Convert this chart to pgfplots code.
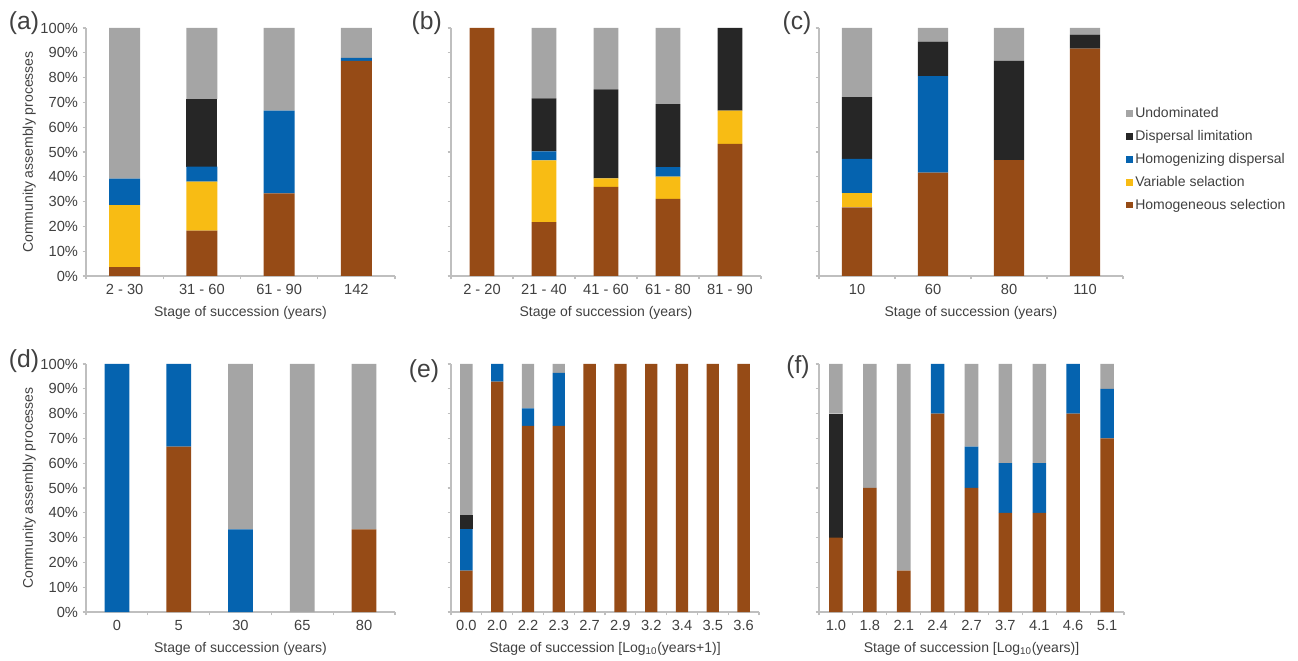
\documentclass[border=0pt]{standalone}
\usepackage{pgfplots}
\pgfplotsset{compat=1.18}
\usepackage{pgfplotstable}
\usepackage{fontspec}
\setmainfont{Liberation Sans}
\definecolor{cHS}{HTML}{964B16}
\definecolor{cVS}{HTML}{F8BC14}
\definecolor{cHD}{HTML}{0563AF}
\definecolor{cDL}{HTML}{262626}
\definecolor{cU}{HTML}{A5A5A5}
\definecolor{axisgrey}{HTML}{BFBFBF}
\definecolor{textgrey}{HTML}{404040}

\pgfplotstableread{
x HS VS HD DL U
0 3.6 25.0 10.7 0 60.7
1 18.3 19.8 6.0 27.2 28.7
2 33.3 0 33.4 0 33.3
3 86.7 0 1.3 0 12.0
}\tabA
\pgfplotstableread{
x HS VS HD DL U
0 100 0 0 0 0
1 21.7 24.9 3.6 21.4 28.4
2 35.9 3.5 0 35.8 24.8
3 31.1 9.0 3.8 25.4 30.7
4 53.3 13.4 0 33.3 0
}\tabB
\pgfplotstableread{
x HS VS HD DL U
0 27.7 5.7 13.8 24.9 27.9
1 41.7 0 38.9 13.9 5.5
2 46.7 0 0 40.0 13.3
3 91.7 0 0 5.6 2.7
}\tabC
\pgfplotstableread{
x HS VS HD DL U
0 0 0 100 0 0
1 66.7 0 33.3 0 0
2 0 0 33.3 0 66.7
3 0 0 0 0 100
4 33.3 0 0 0 66.7
}\tabD
\pgfplotstableread{
x HS VS HD DL U
0 16.7 0 16.7 5.6 61.0
1 92.9 0 7.1 0 0
2 75.0 0 7.1 0 17.9
3 75.0 0 21.4 0 3.6
4 100 0 0 0 0
5 100 0 0 0 0
6 100 0 0 0 0
7 100 0 0 0 0
8 100 0 0 0 0
9 100 0 0 0 0
}\tabE
\pgfplotstableread{
x HS VS HD DL U
0 30 0 0 50 20
1 50 0 0 0 50
2 16.7 0 0 0 83.3
3 80 0 20 0 0
4 50 0 16.7 0 33.3
5 40 0 20 0 40
6 40 0 20 0 40
7 80 0 20 0 0
8 70 0 20 0 10
}\tabF

\newcommand{\stackbars}[1]{%
\addplot[draw=none,fill=cHS] table[x=x,y=HS]{#1};
\addplot[draw=none,fill=cVS] table[x=x,y=VS]{#1};
\addplot[draw=none,fill=cHD] table[x=x,y=HD]{#1};
\addplot[draw=none,fill=cDL] table[x=x,y=DL]{#1};
\addplot[draw=none,fill=cU] table[x=x,y=U]{#1};
}

\pgfplotsset{
  panel/.style={
    ybar stacked, bar width=0.4, scale only axis, height=186pt,
    ymin=0, ymax=100, enlargelimits=false,
    ytick={0,10,...,100},
    axis x line*=bottom, axis y line*=left,
    axis line style={color=axisgrey, line width=0.8pt},
    tick style={color=axisgrey, line width=0.8pt},
    tick align=outside, major tick length=2.5pt,
    tick label style={text=textgrey, font=\fontsize{11}{13}\selectfont},
    label style={text=textgrey, font=\fontsize{10.5}{12}\selectfont},
    xticklabels={},
    extra x tick style={tick style={draw=none}},
    xlabel style={at={(axis description cs:0.5,0)}, anchor=center, yshift=-27.5pt},
    ylabel style={at={(axis description cs:0,0.5)}, anchor=center, yshift=42.5pt},
    yticklabels={},
  },
  pctlabels/.style={yticklabels={0\%,10\%,20\%,30\%,40\%,50\%,60\%,70\%,80\%,90\%,100\%},
    ylabel={Community assembly processes}},
}

\begin{document}
\begin{tikzpicture}
\path[use as bounding box] (0,0) rectangle (973.5pt,495pt);

% (a)
\begin{axis}[panel, pctlabels, at={(64.5pt,288pt)}, anchor=south west, width=231.75pt,
  xmin=-0.5, xmax=3.5, xtick={-0.5,0.5,1.5,2.5,3.5},
  extra x ticks={0,1,2,3}, extra x tick labels={2 - 30,31 - 60,61 - 90,142},
  xlabel={Stage of succession (years)}]
\stackbars{\tabA}
\end{axis}

% (b)
\begin{axis}[panel, at={(338.25pt,288pt)}, anchor=south west, width=232.5pt,
  xmin=-0.5, xmax=4.5, xtick={-0.5,0.5,1.5,2.5,3.5,4.5},
  extra x ticks={0,1,2,3,4}, extra x tick labels={2 - 20,21 - 40,41 - 60,61 - 80,81 - 90},
  xlabel={Stage of succession (years)}]
\stackbars{\tabB}
\end{axis}

% (c)
\begin{axis}[panel, at={(614.25pt,288pt)}, anchor=south west, width=228pt,
  xmin=-0.5, xmax=3.5, xtick={-0.5,0.5,1.5,2.5,3.5},
  extra x ticks={0,1,2,3}, extra x tick labels={10,60,80,110},
  xlabel={Stage of succession (years)},
  reverse legend,
  legend image code/.code={\fill[#1] (0pt,-2.6pt) rectangle (5.25pt,2.6pt);},
  legend style={at={(1.01,0.69)}, anchor=north west, draw=none, fill=none,
    font=\fontsize{10.5}{12}\selectfont, text=textgrey, row sep=5.1pt,
    inner sep=0pt, nodes={inner sep=1.5pt}},
  legend cell align=left]
\stackbars{\tabC}
\legend{Homogeneous selection,Variable selaction,Homogenizing dispersal,Dispersal limitation,Undominated}
\end{axis}

% (d)
\begin{axis}[panel, pctlabels, at={(64.5pt,36pt)}, anchor=south west, width=231.75pt,
  xmin=-0.5, xmax=4.5, xtick={-0.5,0.5,1.5,2.5,3.5,4.5},
  extra x ticks={0,1,2,3,4}, extra x tick labels={0,5,30,65,80},
  xlabel={Stage of succession (years)}]
\stackbars{\tabD}
\end{axis}

% (e)
\begin{axis}[panel, at={(338.25pt,36pt)}, anchor=south west, width=231pt,
  xmin=-0.5, xmax=9.5, xtick={-0.5,0.5,...,9.5},
  extra x ticks={0,1,...,9}, extra x tick labels={0.0,2.0,2.2,2.3,2.7,2.9,3.2,3.4,3.5,3.6},
  xlabel={Stage of succession [Log\textsubscript{10}(years+1)]}]
\stackbars{\tabE}
\end{axis}

% (f)
\begin{axis}[panel, at={(614.25pt,36pt)}, anchor=south west, width=228.75pt,
  xmin=-0.5, xmax=8.5, xtick={-0.5,0.5,...,8.5},
  extra x ticks={0,1,...,8}, extra x tick labels={1.0,1.8,2.1,2.4,2.7,3.7,4.1,4.6,5.1},
  xlabel={Stage of succession [Log\textsubscript{10}(years)]}]
\stackbars{\tabF}
\end{axis}

\begin{scope}[every node/.style={text=textgrey, font=\fontsize{18.5}{20}\selectfont, anchor=center}]
\node at (18pt,477.75pt) {(a)};
\node at (320pt,477.75pt) {(b)};
\node at (597.75pt,477.75pt) {(c)};
\node at (18pt,224.25pt) {(d)};
\node at (318pt,216.75pt) {(e)};
\node at (598.5pt,219.75pt) {(f)};
\end{scope}
\end{tikzpicture}
\end{document}
